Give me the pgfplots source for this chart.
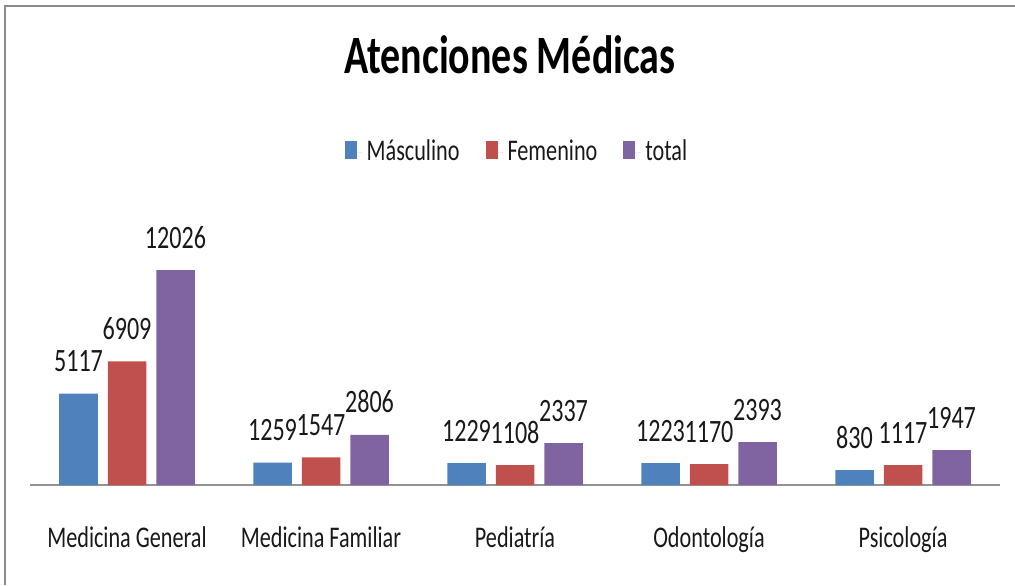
\documentclass[border=0pt]{standalone}
\usepackage{fontspec}
\setmainfont{Carlito}[FakeStretch=0.74]
\usepackage{pgfplots}
\pgfplotsset{compat=1.18}
\definecolor{cBlue}{HTML}{4F81BD}
\definecolor{cRed}{HTML}{C0504D}
\definecolor{cPurple}{HTML}{8064A2}
\begin{document}
\begin{tikzpicture}
\path[use as bounding box] (-15pt,-50pt) rectangle (492.5pt,242.5pt);
\begin{axis}[
  scale only axis, width=485pt, height=150pt,
  xmin=-0.5, xmax=4.5, ymin=0, ymax=16780,
  axis y line=none,
  axis x line=bottom,
  x axis line style={-, draw=gray!85, line width=0.75pt},
  major tick length=0pt,
  ytick=\empty,
  ybar, bar width=19.25pt,
  xtick={0,1,2,3,4},
  xticklabels={Medicina General, Medicina Familiar, Pediatría, Odontología, Psicología},
  xticklabel style={anchor=base, yshift=-31pt, font=\fontsize{15pt}{17pt}\selectfont, text=black!90},
  nodes near coords={\pgfmathprintnumber[assume math mode=true,1000 sep={},fixed,precision=0]{\pgfplotspointmeta}},
  every node near coord/.append style={anchor=base, yshift=11pt, inner sep=0pt, font=\fontsize{16.3pt}{18pt}\selectfont, text=black!90},
  clip=false,
  legend columns=3,
  legend style={draw=none, fill=none, at={(0.503,1.11)}, anchor=center,
    font=\fontsize{15pt}{17pt}\selectfont, text=black!90,
    /tikz/every even column/.append style={column sep=11pt}},
  legend image code/.code={\fill[#1] (0pt,-3.5pt) rectangle (6pt,5.5pt); \path (0pt,0pt) -- (9pt,0pt);},
  title={Atenciones Médicas},
  title style={at={(0.4948,1.3333)}, anchor=base, inner sep=0pt,
    font=\fontsize{27pt}{31pt}\selectfont\bfseries},
]
\addplot[fill=cBlue, draw=none, bar shift=-24.25pt] coordinates {(0,5117) (1,1259) (2,1229) (3,1223) (4,830)};
\addplot[fill=cRed, draw=none, bar shift=0pt] coordinates {(0,6909) (1,1547) (2,1108) (3,1170) (4,1117)};
\addplot[fill=cPurple, draw=none, bar shift=24.25pt] coordinates {(0,12026) (1,2806) (2,2337) (3,2393) (4,1947)};
\legend{Másculino, Femenino, total}
\end{axis}
\draw[gray!90, line width=1pt] (-12.5pt,-50pt) -- (-12.5pt,239.5pt) -- (492.5pt,239.5pt);
\end{tikzpicture}
\end{document}
